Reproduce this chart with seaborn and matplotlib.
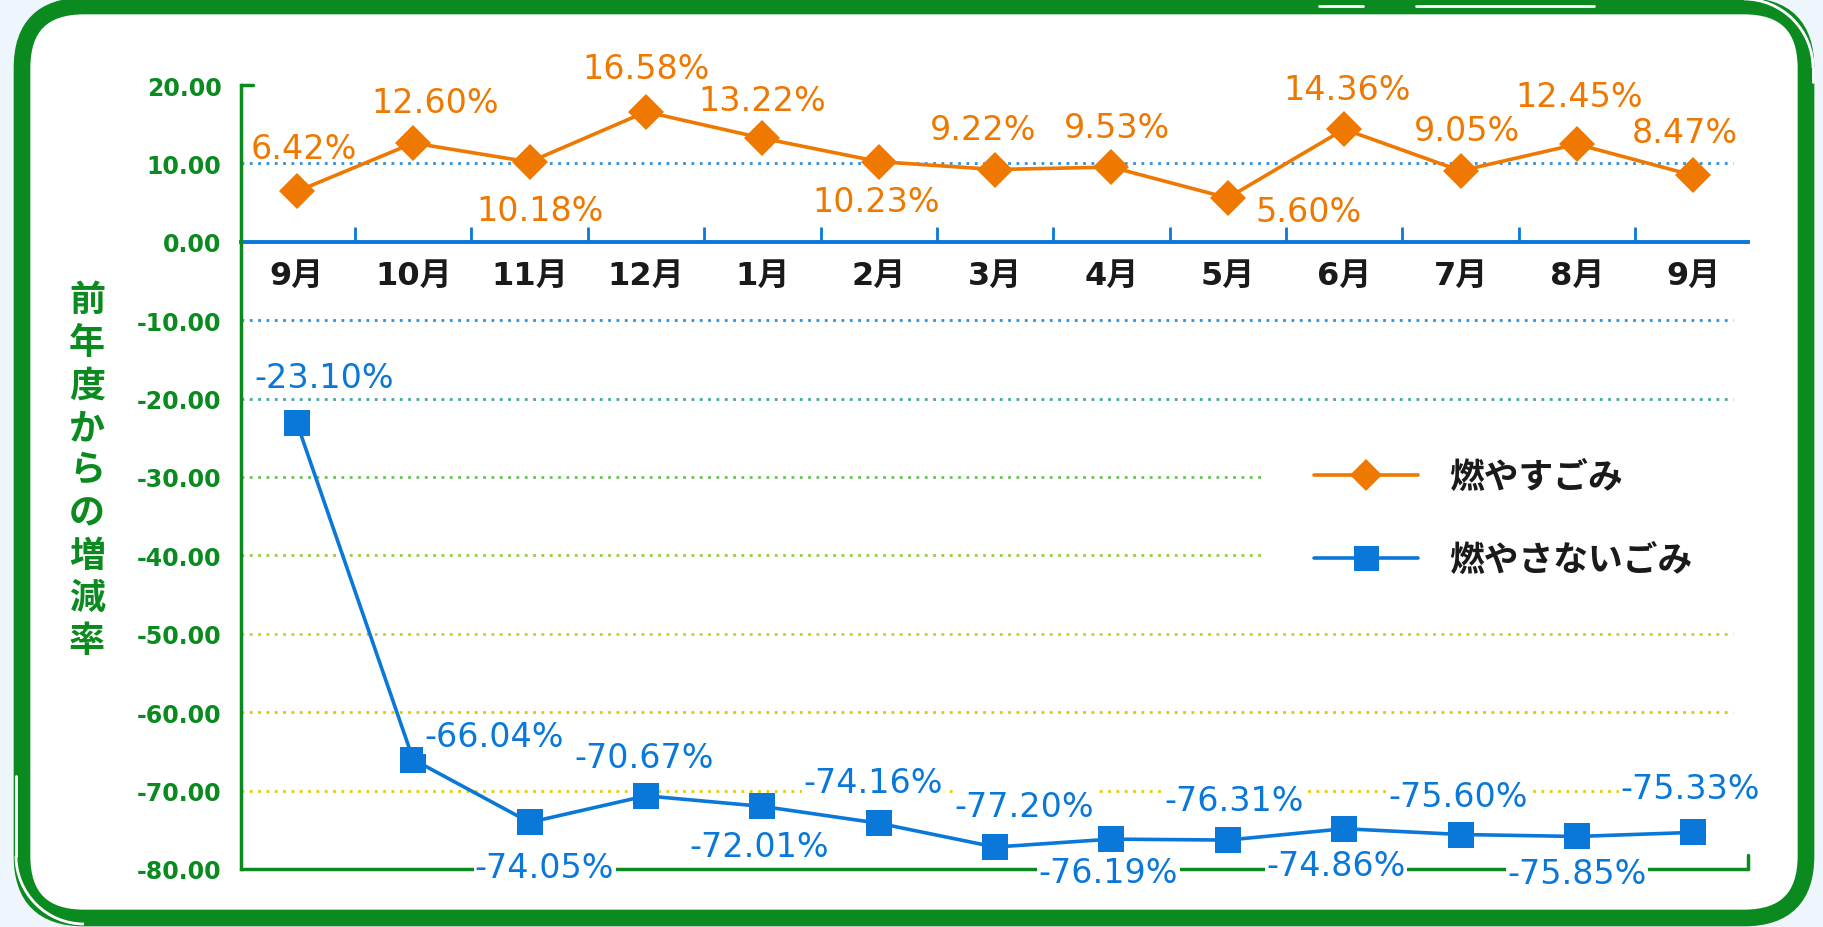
import numpy as np
import pandas as pd
import matplotlib
matplotlib.use('Agg')
import matplotlib.pyplot as plt
from matplotlib.patches import FancyBboxPatch, Arc
from matplotlib.lines import Line2D
from matplotlib.transforms import IdentityTransform
import seaborn as sns

# data
months = ['9月', '10月', '11月', '12月', '1月', '2月', '3月', '4月', '5月', '6月', '7月', '8月', '9月']
burnable = [6.42, 12.60, 10.18, 16.58, 13.22, 10.23, 9.22, 9.53, 5.60, 14.36, 9.05, 12.45, 8.47]
non_burnable = [-23.10, -66.04, -74.05, -70.67, -72.01, -74.16, -77.20, -76.19, -76.31, -74.86, -75.60, -75.85, -75.33]
series_names = ['燃やすごみ', '燃やさないごみ']
y_ticks = [20, 10, 0, -10, -20, -30, -40, -50, -60, -70, -80]
grid_levels = [10, -10, -20, -30, -40, -50, -60, -70]
y_title = '前年度からの増減率'

# label offsets in pixels (dx, dy) relative to each marker
burn_offsets = [(7, 43), (22, 41), (10, -49), (0, 43), (0, 38), (-3, -40), (-12, 40),
                (6, 40), (81, -14), (3, 40), (6, 40), (2, 48), (-8, 43)]
nonburn_offsets = [(27, 45), (81, 23), (15, -45), (-2, 38), (-3, -40), (-6, 41), (29, 41),
                   (-3, -33), (6, 40), (-8, -37), (-2, 38), (0, -37), (-3, 44)]

ORANGE = '#EE7800'
BLUE = '#0A78D8'
GREEN = '#0B8A1F'
grid_colors = ['#2E90E0', '#2E90E0', '#3FA6A0', '#6CBF5A', '#9ACB3A', '#C9CF22', '#E8C400', '#E8CC00']
CJK = ['DejaVu Sans', 'Noto Sans CJK JP']

sns.set_style('white')
plt.rcParams['font.family'] = CJK

df = pd.DataFrame({
    'x': list(range(len(months))) * 2,
    'rate': burnable + non_burnable,
    'kind': [series_names[0]] * len(months) + [series_names[1]] * len(months),
})

fig = plt.figure(figsize=(18.24, 9.28), dpi=100)
fig.patch.set_facecolor('#EEF5FC')

# rounded green frame
frame = FancyBboxPatch((22, 9), 1784, 912, boxstyle='round,pad=0,rounding_size=62',
                       transform=IdentityTransform(), facecolor='white',
                       edgecolor=GREEN, linewidth=12, zorder=-5)
fig.patches.append(frame)
for xs, ys in [([1319, 1363], [921, 921]), ([1416, 1594], [921, 921]),
               ([1813, 1813], [859, 845]), ([16, 16], [71, 151])]:
    fig.add_artist(Line2D(xs, ys, transform=IdentityTransform(), color='white', lw=2, zorder=-4))
fig.add_artist(Arc((1744, 859), 138, 138, theta1=0, theta2=90, transform=IdentityTransform(),
                   color='white', lw=2, zorder=-4))
fig.add_artist(Arc((84, 71), 136, 136, theta1=180, theta2=270, transform=IdentityTransform(),
                   color='white', lw=2, zorder=-4))

ax = fig.add_axes([241 / 1824, 58 / 928, (1748 - 241) / 1824, (842 - 58) / 928])
ax.set_facecolor('none')

for lvl, c in zip(grid_levels, grid_colors):
    ax.axhline(lvl, xmax=0.99, color=c, lw=2, ls=(0, (1, 2)), zorder=1)

sns.lineplot(data=df, x='x', y='rate', hue='kind', style='kind',
             markers={series_names[0]: 'D', series_names[1]: 's'}, dashes=False,
             palette={series_names[0]: ORANGE, series_names[1]: BLUE},
             markersize=18, linewidth=2.6, markeredgewidth=0, sort=False, ax=ax, zorder=3)
for ln in ax.lines:
    if ln.get_marker() == 's':
        ln.set_markersize(19)

ax.set_xlim(-0.48, 12.47)
ax.set_ylim(-80, 20)
ax.set_xlabel('')
ax.set_ylabel('')
ax.set_yticks(y_ticks, labels=[f'{t:.2f}' for t in y_ticks])
ax.tick_params(axis='y', length=0, pad=14, labelsize=17, labelcolor=GREEN)
for lbl in ax.get_yticklabels():
    lbl.set_fontweight('bold')

# blue month axis at y = 0, green frame at the bottom
ax.spines['top'].set_visible(False)
ax.spines['right'].set_visible(False)
ax.spines['left'].set_color(GREEN)
ax.spines['left'].set_linewidth(2.5)
ax.spines['bottom'].set_position(('data', 0))
ax.spines['bottom'].set_color(BLUE)
ax.spines['bottom'].set_linewidth(2.8)
ax.spines['bottom'].set_zorder(2)
ax.set_xticks(np.arange(0.5, len(months) - 1), labels=[])
ax.set_xticks(range(len(months)), labels=months, minor=True)
ax.tick_params(axis='x', which='major', bottom=True, direction='in', length=11, width=2, color=BLUE)
ax.tick_params(axis='x', which='minor', bottom=True, length=0, pad=13, labelsize=23)
for lbl in ax.get_xticklabels(minor=True):
    lbl.set_fontweight('bold')
    lbl.set_color('#1A1A1A')
ax.axhline(-80, color=GREEN, lw=2.5, clip_on=False, zorder=2)
ax.plot([0, 0.008], [1, 1], transform=ax.transAxes, color=GREEN, lw=2.5, clip_on=False)
ax.plot([1, 1], [0, 0.018], transform=ax.transAxes, color=GREEN, lw=2.5, clip_on=False)

# value labels
for i, (v, off) in enumerate(zip(burnable, burn_offsets)):
    ax.annotate(f'{v:.2f}%', (i, v), xytext=off, textcoords='offset pixels',
                ha='center', va='center', color=ORANGE, fontsize=24, zorder=5)
for i, (v, off) in enumerate(zip(non_burnable, nonburn_offsets)):
    ax.annotate(f'{v:.2f}%', (i, v), xytext=off, textcoords='offset pixels',
                ha='center', va='center', color=BLUE, fontsize=24, zorder=5,
                bbox=dict(facecolor='white', edgecolor='none', pad=1))

# legend
old = ax.get_legend()
handles = old.legend_handles
labels = [t.get_text() for t in old.get_texts()]
for h in handles:
    h.set_markeredgewidth(0)
    h.set_markersize(18 if h.get_marker() == 's' else 16)
    h.set_linewidth(2.6)
leg = ax.legend(handles, labels, loc='upper left', bbox_to_anchor=(1262 / 1824, 1 - 408 / 928),
                bbox_transform=fig.transFigure, borderaxespad=0, frameon=True,
                facecolor='white', edgecolor='none', framealpha=1, fancybox=False,
                handlelength=3.0, handletextpad=0.9, labelspacing=1.38, borderpad=1.5,
                markerscale=1,
                prop={'family': ['Noto Sans CJK JP'], 'weight': 'bold', 'size': 25})
for t in leg.get_texts():
    t.set_color('#1A1A1A')
leg.set_zorder(4)

fig.text(87 / 1824, 1 - 471 / 928, '\n'.join(y_title), ha='center', va='center',
         color=GREEN, fontsize=26, fontweight='bold', family='Noto Sans CJK JP', linespacing=1.19)

plt.savefig('out.png', dpi=100, facecolor=fig.get_facecolor())
